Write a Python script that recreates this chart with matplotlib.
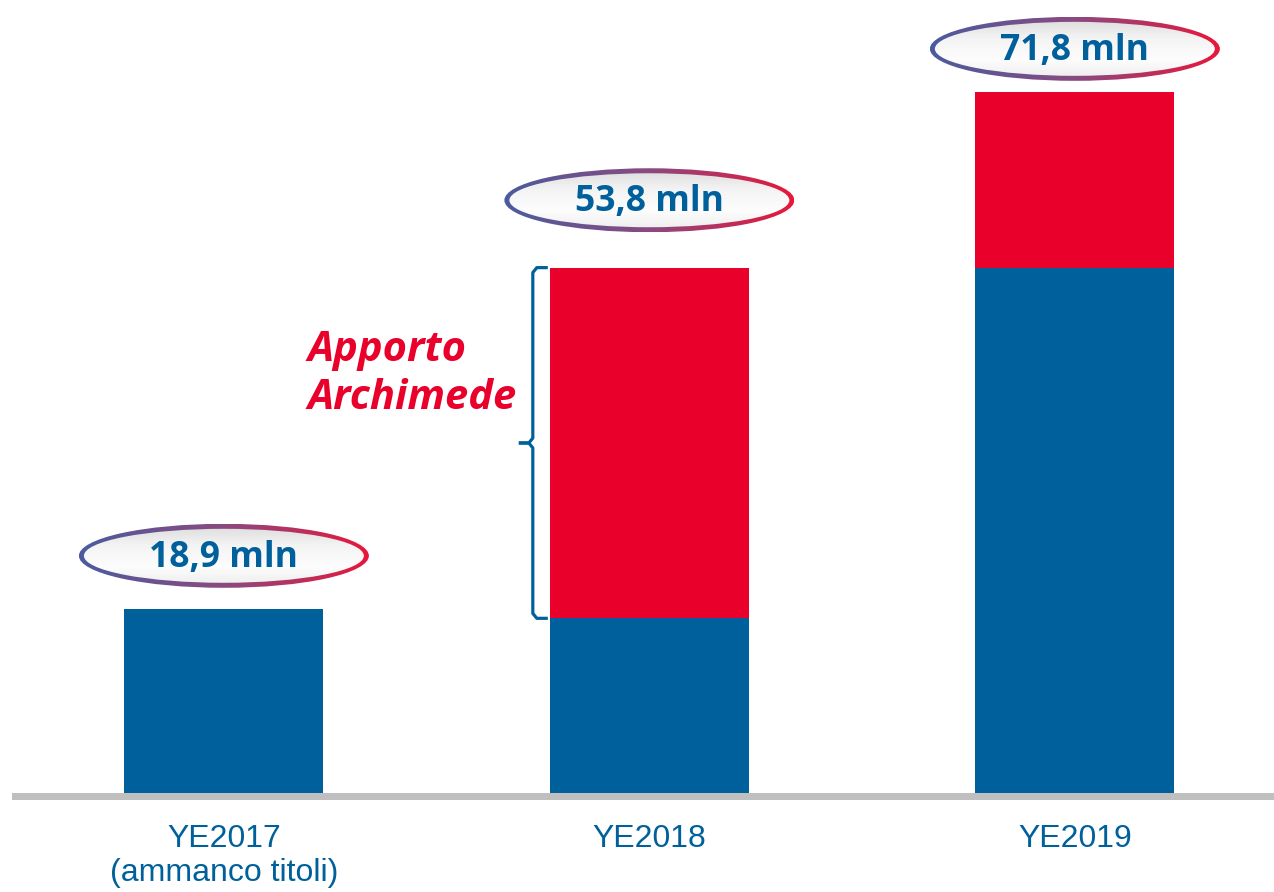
import numpy as np
import matplotlib
matplotlib.use("Agg")
import matplotlib.pyplot as plt
from matplotlib.patches import Ellipse
from matplotlib.colors import LinearSegmentedColormap

# data
categories = ["YE2017\n(ammanco titoli)", "YE2018", "YE2019"]
base = [18.9, 17.9, 53.8]
archimede = [0.0, 35.9, 18.0]
totals = [18.9, 53.8, 71.8]
total_labels = ["18,9 mln", "53,8 mln", "71,8 mln"]
label_offset = [5.4, 6.9, 4.4]   # gap between bar top and bubble centre

BLUE = "#00609C"
RED = "#E9002B"

fig = plt.figure(figsize=(12.74, 8.92), dpi=100)
ax = fig.add_axes([12 / 1274, 92 / 892, 1 - 12 / 1274, 1 - 92 / 892])

x = np.arange(len(categories))
w = 0.468
ax.bar(x, base, w, color=BLUE, zorder=2)
ax.bar(x, archimede, w, bottom=base, color=RED, zorder=2)

# grey base line
ax.axhspan(-0.7, 0, color="#BFBFBF", zorder=1, lw=0)

# bubbles with gradient border
px_x = 1 / 425.5   # data units per pixel
px_y = 1 / 9.77
edge_cmap = LinearSegmentedColormap.from_list("edge", ["#4A5C9E", "#8A4A80", "#E8173A"])
face_cmap = LinearSegmentedColormap.from_list("face", ["#DADADA", "#F4F4F4", "#FDFDFD", "#EBEBEB"])
ew, eh = 290 * px_x, 64 * px_y
bw = 5
for xi, tot, lab, off in zip(x, totals, total_labels, label_offset):
    cy = tot + off
    outer = Ellipse((xi, cy), ew, eh, facecolor="none", edgecolor="none")
    ax.add_patch(outer)
    im = ax.imshow(np.linspace(0, 1, 256)[None, :], cmap=edge_cmap, aspect="auto",
                   extent=[xi - ew / 2, xi + ew / 2, cy - eh / 2, cy + eh / 2], zorder=3)
    im.set_clip_path(outer)
    inner = Ellipse((xi, cy), ew - 2 * bw * px_x, eh - 2 * bw * px_y,
                    facecolor="none", edgecolor="none")
    ax.add_patch(inner)
    im2 = ax.imshow(np.linspace(0, 1, 256)[:, None], cmap=face_cmap, aspect="auto",
                    extent=[xi - ew / 2, xi + ew / 2, cy - eh / 2, cy + eh / 2], zorder=4)
    im2.set_clip_path(inner)
    ax.text(xi, cy - 0.2, lab, ha="center", va="center", fontsize=25.5,
            fontweight="bold", family="Open Sans", color=BLUE, zorder=5)

# brace for "Apporto Archimede"
bx = x[1] - w / 2
y0, y1 = base[1], totals[1]
ym = (y0 + y1) / 2
vx = bx - 17 * px_x
ax.plot([bx - 2 * px_x, vx + 4 * px_x, vx, vx, vx - 4 * px_x, vx - 14 * px_x],
        [y1, y1, y1 - 0.5, ym + 0.5, ym, ym],
        color=BLUE, lw=2.3, solid_joinstyle="round", solid_capstyle="butt", zorder=3)
ax.plot([vx - 14 * px_x, vx - 4 * px_x, vx, vx, vx + 4 * px_x, bx - 2 * px_x],
        [ym, ym, ym - 0.5, y0 + 0.5, y0, y0],
        color=BLUE, lw=2.3, solid_joinstyle="round", solid_capstyle="butt", zorder=3)
ax.text(bx - 242 * px_x, ym + 7.0, "Apporto\nArchimede", ha="left", va="center",
        fontsize=30, fontweight="bold", fontstyle="italic", family="Open Sans",
        color=RED, linespacing=1.25, zorder=3)

ax.set_xlim(-0.498, 2.468)
ax.set_ylim(-0.7, 81.2)
ax.set_xticks(x)
ax.set_xticklabels(categories, fontsize=23, family="Liberation Sans", color=BLUE,
                   linespacing=1.2)
ax.tick_params(axis="x", length=0, pad=17)
ax.set_yticks([])
for s in ax.spines.values():
    s.set_visible(False)

fig.savefig("out.png", dpi=100)
